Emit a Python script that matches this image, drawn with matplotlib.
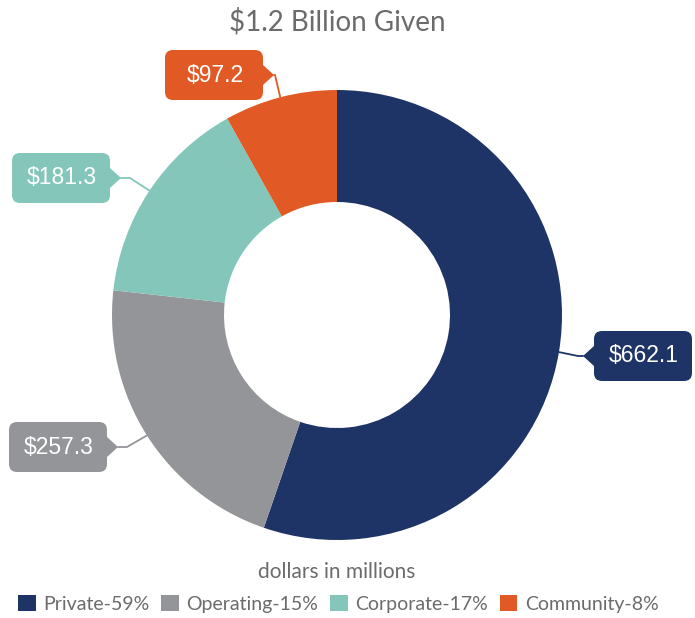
import matplotlib.pyplot as plt
import numpy as np
from matplotlib.patches import FancyBboxPatch, Polygon, Patch

# Data
categories = ['Private', 'Operating', 'Corporate', 'Community']
values = [662.1, 257.3, 181.3, 97.2]          # dollars in millions
legend_pcts = ['59%', '15%', '17%', '8%']
colors = ['#1f3466', '#949599', '#84c7ba', '#e15a26']
title = '$1.2 Billion Given'
subtitle = 'dollars in millions'

W, H = 695, 618
cx, cy, R, ring = 337, H - 315, 225, 112

# callout layout in pixel coords: (box centre x, box centre y, pointer side, elbow x)
callouts = [
    (643, H - 356, 'left', 578),
    (58, H - 447, 'right', 127),
    (61, H - 178, 'right', 130),
    (214, H - 75, 'right', 275),
]
box_w, box_h = 98, 50

fig = plt.figure(figsize=(W / 100, H / 100), dpi=100)
ax = fig.add_axes([0, 0, 1, 1])

wedges, _ = ax.pie(values, colors=colors, startangle=90, counterclock=False,
                   center=(cx, cy), radius=R,
                   wedgeprops=dict(width=ring, edgecolor='none'))
ax.set_xlim(0, W)
ax.set_ylim(0, H)
ax.set_aspect('auto')
ax.axis('off')

for w, val, col, (bx, by, side, ex) in zip(wedges, values, colors, callouts):
    ang = np.deg2rad((w.theta1 + w.theta2) / 2)
    px, py = cx + R * np.cos(ang), cy + R * np.sin(ang)
    if side == 'left':
        tip = bx - box_w / 2 - 11
    else:
        tip = bx + box_w / 2 + 11
    ax.plot([px, ex, tip], [py, by, by], color=col, lw=1.3, zorder=1,
            solid_capstyle='round')
    ax.add_patch(FancyBboxPatch((bx - box_w / 2, by - box_h / 2), box_w, box_h,
                                boxstyle='round,pad=0,rounding_size=8',
                                fc=col, ec='none', zorder=3))
    edge = bx - box_w / 2 if side == 'left' else bx + box_w / 2
    ax.add_patch(Polygon([(edge, by - 10), (tip, by), (edge, by + 10)],
                         closed=True, fc=col, ec='none', zorder=3))
    ax.text(bx + 1, by, f'${val:.1f}', color='white', fontsize=16.5,
            family='Liberation Sans', ha='center', va='center', zorder=4)

font = 'Lato'
fig.text(0.485, 1 - 22 / H, title, ha='center', va='center', fontsize=20,
         color='#6b6b6b', family=font)
fig.text(0.485, 1 - 572 / H, subtitle, ha='center', va='center', fontsize=15,
         color='#6b6b6b', family=font)

handles = [Patch(facecolor=c, edgecolor='none') for c in colors]
labels = [f'{c}-{p}' for c, p in zip(categories, legend_pcts)]
fig.legend(handles, labels, loc='center', bbox_to_anchor=(0.487, 1 - 604 / H),
           ncol=4, frameon=False, handlelength=0.9, handleheight=0.9,
           handletextpad=0.4, columnspacing=0.6,
           prop=dict(family=font, size=14), labelcolor='#6b6b6b')

plt.savefig('out.png', dpi=100)
